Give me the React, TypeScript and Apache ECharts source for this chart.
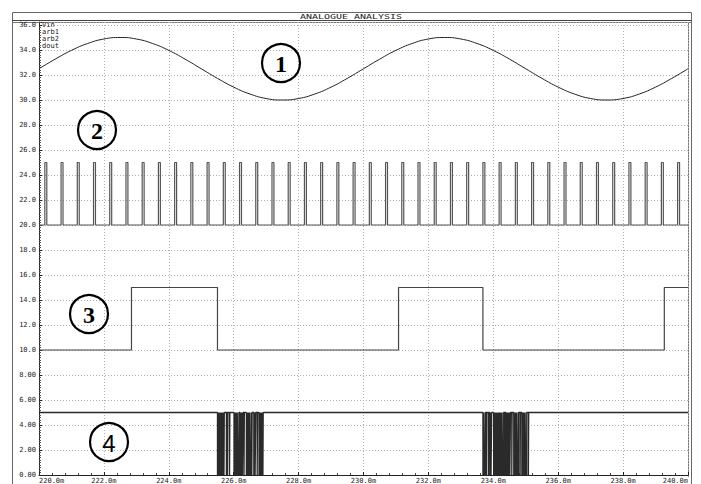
import React, { useEffect, useRef } from "react";
import * as echarts from "echarts";

// ---- data ----
const seriesNames = ["Vin", "arb1", "arb2", "dout"];

// Vin: sampled every 0.5 ms (ms, V)
const vinTimes = [
  220, 220.5, 221, 221.5, 222, 222.5, 223, 223.5, 224, 224.5, 225, 225.5, 226, 226.5, 227, 227.5,
  228, 228.5, 229, 229.5, 230, 230.5, 231, 231.5, 232, 232.5, 233, 233.5, 234, 234.5, 235, 235.5,
  236, 236.5, 237, 237.5, 238, 238.5, 239, 239.5, 240,
];
const vinValues = [
  32.5, 33.27, 33.97, 34.52, 34.88, 35.0, 34.88, 34.52, 33.97, 33.27, 32.5, 31.73, 31.03, 30.48,
  30.12, 30.0, 30.12, 30.48, 31.03, 31.73, 32.5, 33.27, 33.97, 34.52, 34.88, 35.0, 34.88, 34.52,
  33.97, 33.27, 32.5, 31.73, 31.03, 30.48, 30.12, 30.0, 30.12, 30.48, 31.03, 31.73, 32.5,
];

// arb1: narrow pulses 20 -> 25 (rise times, ms)
const arb1Rises = [
  220.18, 220.68, 221.18, 221.68, 222.18, 222.68, 223.18, 223.68, 224.18, 224.68, 225.18, 225.68,
  226.18, 226.68, 227.18, 227.68, 228.18, 228.68, 229.18, 229.68, 230.18, 230.68, 231.18, 231.68,
  232.18, 232.68, 233.18, 233.68, 234.18, 234.68, 235.18, 235.68, 236.18, 236.68, 237.18, 237.68,
  238.18, 238.68, 239.18, 239.68,
];
const arb1PulseWidth = 0.06;
const arb1Levels = [20, 25];

// arb2: square wave 10 <-> 15 (edge times, ms)
const arb2Edges = [222.85, 225.5, 231.08, 233.68, 239.27];
const arb2Levels = [10, 15];

// dout: high at 5, switching bursts to 0 (edge times, ms)
const doutEdges = [
  225.5, 225.52, 225.54, 225.56, 225.58, 225.6, 225.62, 225.64, 225.66, 225.68, 225.7, 225.71,
  225.775, 225.785, 225.81, 225.82, 225.872, 225.882,
  226.01, 226.03, 226.05, 226.07, 226.09, 226.11, 226.13, 226.16,
  226.19, 226.21, 226.23, 226.25, 226.27, 226.29, 226.318, 226.328,
  226.39, 226.41, 226.43, 226.45, 226.47, 226.49, 226.51, 226.54, 226.558, 226.568,
  226.62, 226.64, 226.66, 226.68, 226.724, 226.734,
  226.78, 226.8, 226.82, 226.84, 226.86, 226.88, 226.9, 226.91,
  233.68, 233.7, 233.72, 233.75, 233.786, 233.796, 233.847, 233.857,
  233.89, 233.91, 233.93, 233.95,
  234.01, 234.03, 234.05, 234.07, 234.09, 234.11, 234.13, 234.15, 234.17, 234.19, 234.21, 234.23,
  234.25, 234.27, 234.29, 234.32,
  234.349, 234.359, 234.39, 234.41, 234.43, 234.45, 234.47, 234.49, 234.51, 234.53, 234.57, 234.58,
  234.63, 234.65, 234.67, 234.69, 234.71, 234.73, 234.75, 234.78, 234.826, 234.836,
  234.88, 234.9, 234.92, 234.94, 234.96, 234.98, 235.0, 235.03, 235.081, 235.091,
];
const doutLevels = [5, 0];

const xRange = [220, 240];
const yRange = [0, 36.24];

// ---- helpers ----
function stepPoints(edges: number[], start: number, other: number): number[][] {
  const pts: number[][] = [[xRange[0], start]];
  let cur = start;
  for (const e of edges) {
    pts.push([e, cur]);
    cur = cur === start ? other : start;
    pts.push([e, cur]);
  }
  pts.push([xRange[1], cur]);
  return pts;
}

const MONO = "'DejaVu Sans Mono', monospace";

export default function App() {
  const ref = useRef<HTMLDivElement>(null);
  useEffect(() => {
    if (!ref.current) return;
    const chart = echarts.init(ref.current, null, { renderer: "svg" });
    const vinData = vinTimes.map((t, i) => [t, vinValues[i]]);
    const arb1Edges = arb1Rises.flatMap((t) => [t, t + arb1PulseWidth]);
    const arb1Data = stepPoints(arb1Edges, arb1Levels[0], arb1Levels[1]);
    const arb2Data = stepPoints(arb2Edges, arb2Levels[0], arb2Levels[1]);
    const doutData = stepPoints(doutEdges, doutLevels[0], doutLevels[1]);

    const circle = (cx: number, cy: number, label: string, font: string) => [
      {
        type: "circle",
        shape: { cx, cy, r: 19 },
        style: { fill: "none", stroke: "#000", lineWidth: 2.2 },
        z: 100,
      },
      {
        type: "text",
        x: cx,
        y: cy + 1,
        style: {
          text: label,
          font,
          fill: "#000",
          align: "center",
          verticalAlign: "middle",
          textAlign: "center",
          textVerticalAlign: "middle",
        },
        z: 100,
      },
    ];

    const option: any = {
      animation: false,
      backgroundColor: "#fff",
      grid: { left: 39, right: 13, top: 22, bottom: 7, containLabel: false },
      legend: {
        data: seriesNames,
        orient: "vertical",
        left: 37,
        top: 21,
        itemGap: 0,
        itemWidth: 0,
        itemHeight: 7.2,
        icon: "rect",
        selectedMode: false,
        padding: 0,
        textStyle: { fontSize: 7, fontFamily: MONO, color: "#222", lineHeight: 7.2, padding: 0 },
      },
      xAxis: {
        type: "value",
        min: xRange[0],
        max: xRange[1],
        interval: 2,
        axisLine: { lineStyle: { color: "#222", width: 1 } },
        axisTick: { show: true, inside: true, length: 3, lineStyle: { color: "#222" } },
        minorTick: { show: true, splitNumber: 5, length: 2, lineStyle: { color: "#444" } },
        splitLine: { show: true, lineStyle: { color: "#b0b0b0", type: [1, 2], width: 1 } },
        axisLabel: {
          formatter: (v: number) => v.toFixed(1) + "m",
          fontSize: 7,
          fontFamily: MONO,
          color: "#222",
          margin: 2,
          alignMinLabel: "left",
          alignMaxLabel: "right",
        },
      },
      yAxis: {
        type: "value",
        min: yRange[0],
        max: yRange[1],
        interval: 2,
        axisLine: { show: true, lineStyle: { color: "#222", width: 1 } },
        axisTick: { show: true, inside: true, length: 3, lineStyle: { color: "#222" } },
        minorTick: { show: true, splitNumber: 10, length: 2, lineStyle: { color: "#555" } },
        splitLine: { show: true, lineStyle: { color: "#b0b0b0", type: [1, 2], width: 1 } },
        axisLabel: {
          formatter: (v: number) => (Math.abs(v / 2 - Math.round(v / 2)) > 1e-6 ? "" : v.toPrecision(3)),
          fontSize: 7,
          fontFamily: MONO,
          color: "#222",
          margin: 3,
        },
      },
      series: [
        {
          name: "Vin",
          type: "line",
          data: vinData,
          smooth: true,
          showSymbol: false,
          lineStyle: { color: "#222", width: 1 },
          itemStyle: { color: "#222" },
        },
        {
          name: "arb1",
          type: "line",
          data: arb1Data,
          showSymbol: false,
          lineStyle: { color: "#555", width: 1.2 },
          itemStyle: { color: "#555" },
        },
        {
          name: "arb2",
          type: "line",
          data: arb2Data,
          showSymbol: false,
          lineStyle: { color: "#444", width: 1.2 },
          itemStyle: { color: "#444" },
        },
        {
          name: "dout",
          type: "line",
          data: doutData,
          showSymbol: false,
          lineStyle: { color: "#2a2a2a", width: 1.3 },
          itemStyle: { color: "#2a2a2a" },
        },
      ],
      graphic: [
        {
          type: "rect",
          shape: { x: 12.5, y: 12.5, width: 679, height: 490 },
          style: { fill: "none", stroke: "#666", lineWidth: 1 },
          silent: true,
        },
        {
          type: "line",
          shape: { x1: 12, y1: 20.5, x2: 692, y2: 20.5 },
          style: { stroke: "#444", lineWidth: 1 },
        },
        {
          type: "line",
          shape: { x1: 12, y1: 22.5, x2: 692, y2: 22.5 },
          style: { stroke: "#777", lineWidth: 1 },
        },
        {
          type: "line",
          shape: { x1: 688.5, y1: 22, x2: 688.5, y2: 477 },
          style: { stroke: "#777", lineWidth: 1 },
        },
        {
          type: "text",
          x: 351,
          y: 16.5,
          scaleY: 0.72,
          style: {
            text: "ANALOGUE ANALYSIS",
            font: "10px " + MONO,
            fill: "#222",
            align: "center",
            verticalAlign: "middle",
            textAlign: "center",
            textVerticalAlign: "middle",
          },
        },
        ...circle(281, 63, "1", "bold 24px 'Liberation Serif', serif"),
        ...circle(97, 130, "2", "bold 24px 'Liberation Serif', serif"),
        ...circle(89, 314, "3", "bold 24px 'Liberation Serif', serif"),
        ...circle(109, 442, "4", "24px 'Liberation Sans', sans-serif"),
      ],
    };
    chart.setOption(option);
    return () => chart.dispose();
  }, []);
  return (
    <div
      ref={ref}
      style={{ position: "absolute", left: 0, top: 0, width: 701, height: 484, background: "#fff" }}
    />
  );
}
